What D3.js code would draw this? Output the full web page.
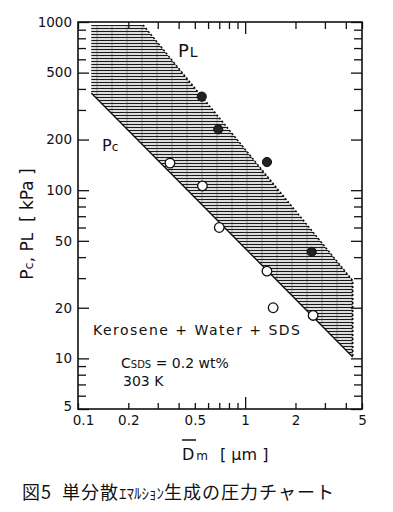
<!DOCTYPE html>
<html>
<head>
<meta charset="utf-8">
<script src="https://cdn.jsdelivr.net/npm/d3@7"></script>
<style>
  body { margin: 0; background: #fff; }
  text { font-family: "DejaVu Sans", sans-serif; fill: #111; white-space: pre; }
</style>
</head>
<body>
<div id="chart"></div>
<script>
// band of the pressure chart (Dm in um, P in kPa)
const bandUpper = [[0.12, 960], [0.245, 960], [4.4, 29]];
const bandLower = [[4.4, 10.2], [0.12, 378]];

// measured points
const plD = [0.55, 0.69, 1.35, 2.5];
const plP = [360, 230, 147, 43];
const pcD = [0.355, 0.555, 0.70, 1.35, 1.47, 2.55];
const pcP = [145, 106, 60, 33, 20, 18];

const xLabels = [0.1, 0.2, 0.5, 1, 2, 5];
const yLabels = [5, 10, 20, 50, 100, 200, 500, 1000];

const W = 393, H = 512;
const svg = d3.select("#chart").append("svg").attr("width", W).attr("height", H);

const x = d3.scaleLog().domain([0.1, 5]).range([78, 362]);
const y = d3.scaleLog().domain([5, 1000]).range([409, 22]);

// hatch pattern
const defs = svg.append("defs");
const pat = defs.append("pattern")
  .attr("id", "hatch").attr("patternUnits", "userSpaceOnUse")
  .attr("width", 15).attr("height", 3);
pat.append("line").attr("x1", 0).attr("x2", 15).attr("y1", 1.5).attr("y2", 1.5)
  .attr("stroke", "#1a1a1a").attr("stroke-width", 1.3);
pat.append("line").attr("x1", 7).attr("x2", 7).attr("y1", 0).attr("y2", 3)
  .attr("stroke", "#333").attr("stroke-width", 0.7).attr("opacity", 0.6);

const line = d3.line().x(d => x(d[0])).y(d => y(d[1]));

svg.append("path")
  .attr("d", line(bandUpper.concat(bandLower)) + "Z")
  .attr("fill", "url(#hatch)");
// upper boundary (dotted edge)
svg.append("path")
  .attr("d", line(bandUpper.slice(1).concat([bandLower[0]])))
  .attr("fill", "none").attr("stroke", "#111").attr("stroke-width", 1.6)
  .attr("stroke-dasharray", "2,2");
// Pc line
svg.append("path")
  .attr("d", line(bandLower))
  .attr("fill", "none").attr("stroke", "#111").attr("stroke-width", 1.4);

// axes
function styleAxis(g) {
  g.select(".domain").remove();
  g.selectAll(".tick line").attr("stroke", "#111").attr("stroke-width", 1.3);
  g.selectAll(".tick text").style("font-size", "13.5px").attr("fill", "#111");
}
const minorX = x.ticks().filter(v => v !== 1);
const minorY = y.ticks().filter(v => !yLabels.includes(v));

svg.append("g").attr("transform", "translate(0,409)")
  .call(d3.axisBottom(x).tickValues(minorX).tickSizeInner(-6).tickFormat(""))
  .call(styleAxis);
svg.append("g").attr("transform", "translate(0,409)")
  .call(d3.axisBottom(x).tickValues([1]).tickSizeInner(-12).tickFormat(""))
  .call(styleAxis);
svg.append("g").attr("transform", "translate(0,409)")
  .call(d3.axisBottom(x).tickValues(xLabels).tickSize(0).tickPadding(6).tickFormat(d3.format("")))
  .call(styleAxis)
  .call(g => g.selectAll(".tick text").attr("dx", d => d === 0.1 ? 5 : 0));

svg.append("g").attr("transform", "translate(0,22)")
  .call(d3.axisTop(x).tickValues(minorX).tickSizeInner(-7).tickFormat(""))
  .call(styleAxis);
svg.append("g").attr("transform", "translate(0,22)")
  .call(d3.axisTop(x).tickValues([1]).tickSizeInner(-12).tickFormat(""))
  .call(styleAxis);

svg.append("g").attr("transform", "translate(78,0)")
  .call(d3.axisLeft(y).tickValues(minorY).tickSizeInner(-8).tickFormat(""))
  .call(styleAxis);
svg.append("g").attr("transform", "translate(78,0)")
  .call(d3.axisLeft(y).tickValues(yLabels).tickSizeInner(-11).tickFormat(d3.format("")))
  .call(styleAxis)
  .call(g => g.selectAll(".tick text").attr("x", -6).attr("dy", d => d === 5 ? "0.1em" : "0.32em"));

svg.append("g").attr("transform", "translate(362,0)")
  .call(d3.axisRight(y).tickValues(minorY).tickSizeInner(-8).tickFormat(""))
  .call(styleAxis);
svg.append("g").attr("transform", "translate(362,0)")
  .call(d3.axisRight(y).tickValues(yLabels).tickSizeInner(-11).tickFormat(""))
  .call(styleAxis);

// frame
svg.append("rect").attr("x", 78).attr("y", 22).attr("width", 284).attr("height", 387)
  .attr("fill", "none").attr("stroke", "#111").attr("stroke-width", 1.6);

// points
svg.append("g").selectAll("circle")
  .data(d3.zip(plD, plP)).join("circle")
  .attr("cx", d => x(d[0])).attr("cy", d => y(d[1])).attr("r", 4.6)
  .attr("fill", "#222").attr("stroke", "#111");
svg.append("g").selectAll("circle")
  .data(d3.zip(pcD, pcP)).join("circle")
  .attr("cx", d => x(d[0])).attr("cy", d => y(d[1])).attr("r", 4.8)
  .attr("fill", "#fff").attr("stroke", "#111").attr("stroke-width", 1.3);

// annotations
const pl = svg.append("text").attr("x", 178).attr("y", 57).style("font-size", "18px");
pl.append("tspan").text("P");
pl.append("tspan").style("font-size", "14px").attr("dx", 1).text("L");
const pc = svg.append("text").attr("x", 102).attr("y", 151).style("font-size", "16px");
pc.append("tspan").text("P");
pc.append("tspan").style("font-size", "12px").text("c");

svg.append("text").attr("x", 93).attr("y", 335).style("font-size", "14px")
  .attr("textLength", 207).text("Kerosene + Water + SDS");
const cs = svg.append("text").attr("x", 121).attr("y", 368).style("font-size", "14px");
cs.append("tspan").text("C");
cs.append("tspan").style("font-size", "10px").text("SDS");
cs.append("tspan").text(" = 0.2 wt%");
svg.append("text").attr("x", 123).attr("y", 386).style("font-size", "14px").text("303 K");

// y title
const yt = svg.append("text")
  .attr("transform", "translate(33,224) rotate(-90)")
  .attr("text-anchor", "middle").style("font-size", "17px");
yt.append("tspan").text("P");
yt.append("tspan").style("font-size", "13px").text("c");
yt.append("tspan").text(", P");
yt.append("tspan").style("font-size", "15px").text("L");
yt.append("tspan").text("  [ kPa ]");

// x title
const xt = svg.append("text").attr("x", 182).attr("y", 460).style("font-size", "16px");
xt.append("tspan").text("D");
xt.append("tspan").style("font-size", "12px").attr("dx", 2).text("m");
xt.append("tspan").attr("dx", 12).text("[ μm ]");
svg.append("line").attr("x1", 182).attr("x2", 196).attr("y1", 440).attr("y2", 440)
  .attr("stroke", "#111").attr("stroke-width", 1.5);

// caption
const cap = svg.append("text").attr("x", 22).attr("y", 499)
  .style("font-family", "'Noto Sans CJK JP', sans-serif").style("font-size", "18px")
  .style("letter-spacing", "1px");
cap.append("tspan").text("図5  単分散");
cap.append("tspan").style("font-size", "15px").style("letter-spacing", "0px").text("ｴﾏﾙｼｮﾝ");
cap.append("tspan").text("生成の圧力チャート");
</script>
</body>
</html>
